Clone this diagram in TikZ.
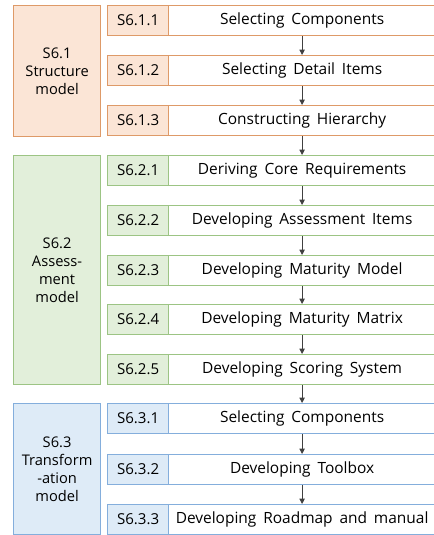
\documentclass[tikz,border=0pt]{standalone}
\usepackage{fontspec}
\setmainfont{Open Sans}[WordSpace=1.7]
\usetikzlibrary{arrows.meta}

% colours of the three stages
\definecolor{orfill}{HTML}{FBE5D6}
\definecolor{ordraw}{HTML}{DE9A68}
\definecolor{grfill}{HTML}{E2EFDA}
\definecolor{grdraw}{HTML}{9CC484}
\definecolor{blfill}{HTML}{DEEBF7}
\definecolor{bldraw}{HTML}{84AEDC}
\definecolor{arrowgray}{HTML}{404040}

\tikzset{
    stagebox/.style={draw, line width=0.9pt, anchor=north west, align=center,
        inner sep=1pt, minimum width=65.25pt, font=\fontsize{11}{13.5}\selectfont},
    idbox/.style={draw, line width=0.9pt, anchor=north west, inner sep=0pt,
        minimum width=45.75pt, minimum height=22.5pt, font=\fontsize{11.3}{13}\selectfont},
    taskbox/.style={draw, line width=0.9pt, anchor=north west, inner sep=0pt,
        minimum width=200.25pt, minimum height=22.5pt, fill=white,
        font=\fontsize{11.6}{13}\selectfont},
    flow/.style={draw=arrowgray, line width=0.7pt, -{Triangle[length=4pt,width=4pt]}}
}

\begin{document}
\begin{tikzpicture}[x=0.75pt,y=-0.75pt]
    \useasboundingbox (0,0) rectangle (434,535);

    % 段階のボックス
    \node[stagebox, draw=ordraw, fill=orfill, minimum height=98.25pt] (S1) at (13,5)
        {S6.1\\Structure\\model};
    \node[stagebox, draw=grdraw, fill=grfill, minimum height=171.75pt] (S2) at (13,155)
        {S6.2\\Assess-\\ment\\model};
    \node[stagebox, draw=bldraw, fill=blfill, minimum height=98.25pt] (S3) at (13,403)
        {S6.3\\Transform\\-ation\\model};

    % S6.1 の作業
    \node[idbox, draw=ordraw, fill=orfill] (i11) at (107,5) {S6.1.1};
    \node[taskbox, draw=ordraw] (t11) at (168,5) {Selecting Components};
    \node[idbox, draw=ordraw, fill=orfill] (i12) at (107,55) {S6.1.2};
    \node[taskbox, draw=ordraw] (t12) at (168,55) {Selecting Detail Items};
    \node[idbox, draw=ordraw, fill=orfill] (i13) at (107,105) {S6.1.3};
    \node[taskbox, draw=ordraw] (t13) at (168,105) {Constructing Hierarchy};

    % S6.2 の作業
    \node[idbox, draw=grdraw, fill=grfill] (i21) at (107,155) {S6.2.1};
    \node[taskbox, draw=grdraw] (t21) at (168,155) {Deriving Core Requirements};
    \node[idbox, draw=grdraw, fill=grfill] (i22) at (107,205) {S6.2.2};
    \node[taskbox, draw=grdraw] (t22) at (168,205) {Developing Assessment Items};
    \node[idbox, draw=grdraw, fill=grfill] (i23) at (107,255) {S6.2.3};
    \node[taskbox, draw=grdraw] (t23) at (168,255) {Developing Maturity Model};
    \node[idbox, draw=grdraw, fill=grfill] (i24) at (107,304) {S6.2.4};
    \node[taskbox, draw=grdraw] (t24) at (168,304) {Developing Maturity Matrix};
    \node[idbox, draw=grdraw, fill=grfill] (i25) at (107,354) {S6.2.5};
    \node[taskbox, draw=grdraw] (t25) at (168,354) {Developing Scoring System};

    % S6.3 の作業
    \node[idbox, draw=bldraw, fill=blfill] (i31) at (107,403) {S6.3.1};
    \node[taskbox, draw=bldraw] (t31) at (168,403) {Selecting Components};
    \node[idbox, draw=bldraw, fill=blfill] (i32) at (107,454) {S6.3.2};
    \node[taskbox, draw=bldraw] (t32) at (168,454) {Developing Toolbox};
    \node[idbox, draw=bldraw, fill=blfill] (i33) at (107,504) {S6.3.3};
    \node[taskbox, draw=bldraw] (t33) at (168,504) {Developing Roadmap and manual};

    % 矢印
    \draw[flow] (t11.south) -- (t12.north);
    \draw[flow] (t12.south) -- (t13.north);
    \draw[flow] (t13.south) -- (t21.north);
    \draw[flow] (t21.south) -- (t22.north);
    \draw[flow] (t22.south) -- (t23.north);
    \draw[flow] (t23.south) -- (t24.north);
    \draw[flow] (t24.south) -- (t25.north);
    \draw[flow] (t25.south) -- (t31.north);
    \draw[flow] (t31.south) -- (t32.north);
    \draw[flow] (t32.south) -- (t33.north);

\end{tikzpicture}
\end{document}
